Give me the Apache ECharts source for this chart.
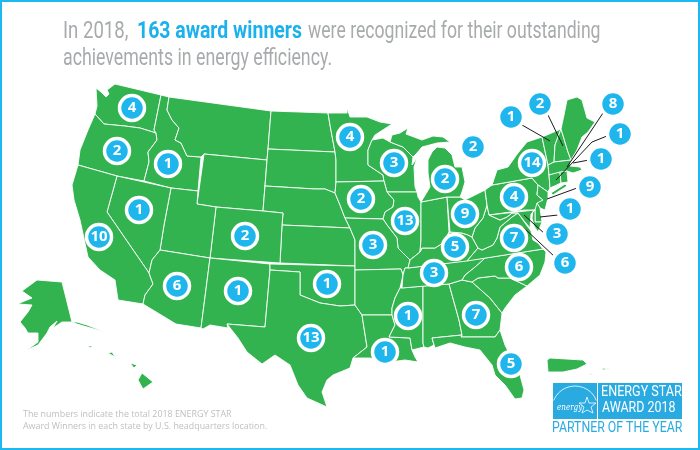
<!DOCTYPE html>
<html>
<head>
<meta charset="utf-8">
<title>ENERGY STAR 2018 award winners</title>
<script src="https://cdn.jsdelivr.net/npm/echarts@6/dist/echarts.min.js"></script>
<style>
html,body{margin:0;padding:0;background:#fff;}
#main{width:700px;height:450px;}
</style>
</head>
<body>
<div id="main"></div>
<script>
// bubbles: value and where it sits on the map (map units, y grows downward like the picture)
var bubbleNames = ["WA","OR","ID","NV","CA","AZ","NM","CO","TX","OK","MN","WI","IA","IL","MO","MI","MI2","OH","PA","NY","KY","TN","VA","NC","GA","MS","LA","FL","VT","NH","MA","NH2","RI","NJ","DE","MD","DC"];
var bubbleValues = [4,2,1,1,10,6,1,2,13,1,4,3,2,13,3,2,2,9,4,14,5,3,7,6,7,1,1,5,1,2,8,1,1,9,1,3,6];
var bubbleX = [132,117,168,139,99,177,238,245,311,327,350,394,361,405,373,445,473,465,514,532,455,434,514,519,476,408,385,511,511,540,613,620,601,590,570,557,565];
var bubbleY = [108,151,164,210,237,286,291,236,338,284,137,163,199,221,245,179,147,214,197,163,247,273,238,267,315,316,352,364,117,104,104,134,159,187,209,234,263];

// leader lines from the bubbles off the coast to their small state
var leaderLines = [
  [[522,125],[550,141]],
  [[548,115],[563,146]],
  [[603,113],[567,167]],
  [[607,136],[592,142],[556,180]],
  [[589,160],[573,163]],
  [[577,188],[547,199]],
  [[558,215],[540,217]],
  [[545,234],[524,215]],
  [[555,257],[523,227]]
];

// state outlines
var WA = [[96,88],[101,92],[106,97],[109,94],[107,90],[115,84],[161,95],[154,130],[156,133],[140,128],[125,126],[104,124],[95,114],[97,106]];
var OR = [[95,114],[104,124],[125,126],[140,128],[156,133],[157,140],[148,152],[149,162],[144,181],[117,176],[78,165],[80,150],[88,130]];
var ID = [[161,95],[169,97],[167,110],[172,120],[179,128],[175,140],[181,143],[187,156],[201,157],[198,191],[171,188],[144,181],[149,162],[148,152],[157,140],[156,133],[154,130]];
var MT = [[169,97],[271,111],[268,149],[267,160],[204,154],[201,157],[187,156],[181,143],[175,140],[179,128],[172,120],[167,110]];
var WY = [[204,154],[267,160],[263,211],[216,207],[197,204]];
var ND = [[271,111],[328,113],[330,125],[335,152],[268,149]];
var SD = [[268,149],[335,152],[336,160],[336,182],[335,193],[325,189],[315,189],[265,186],[267,160]];
var NE = [[265,186],[315,189],[325,189],[335,193],[340,205],[345,218],[350,228],[282,225],[283,213],[263,211]];
var KS = [[282,225],[350,228],[355,240],[355,266],[280,263]];
var CO = [[216,207],[263,211],[283,213],[282,225],[280,263],[210,258]];
var UT = [[171,188],[198,191],[197,204],[216,207],[210,258],[160,250],[164,225]];
var NV = [[117,176],[171,188],[164,225],[160,250],[152,260],[149,273],[107,212]];
var CA = [[78,165],[117,176],[107,212],[149,273],[153,284],[145,295],[143,304],[118,300],[115,280],[100,270],[88,257],[80,220],[74,200],[72,185]];
var AZ = [[160,250],[210,258],[201,328],[176,324],[143,304],[145,295],[153,284],[149,273],[152,260]];
var NM = [[210,258],[270,264],[270,270],[265,327],[227,324],[228,328],[210,325],[203,329],[201,328]];
var OK = [[270,264],[355,266],[355,305],[340,306],[320,303],[300,295],[300,272],[270,270]];
var TX = [[270,270],[300,272],[300,295],[320,303],[340,306],[355,305],[362,315],[367,347],[353,358],[350,368],[333,375],[327,380],[322,392],[327,407],[307,398],[298,385],[290,365],[275,355],[262,364],[247,352],[238,338],[227,324],[265,327]];
var MN = [[328,113],[347,113],[347,108],[350,117],[367,117],[380,122],[392,124],[375,135],[372,140],[368,150],[368,165],[383,175],[384,181],[336,182],[336,160],[335,152],[330,125]];
var WI = [[372,140],[383,138],[390,142],[403,147],[413,157],[412,165],[417,158],[414,167],[415,187],[417,192],[387,192],[384,181],[383,175],[368,165],[368,150]];
var IA = [[336,182],[384,181],[387,192],[394,200],[393,207],[385,212],[383,219],[345,218],[340,205],[335,193]];
var IL = [[387,192],[417,192],[418,197],[421,202],[421,240],[420,252],[410,260],[408,258],[398,248],[397,238],[387,225],[383,219],[385,212],[393,207],[394,200]];
var MO = [[345,218],[383,219],[387,225],[397,238],[398,248],[408,258],[410,260],[408,268],[405,268],[403,275],[401,269],[355,270],[355,240],[350,228]];
var AR = [[355,270],[401,269],[403,275],[400,288],[395,298],[392,308],[392,315],[362,315],[355,305]];
var LA = [[362,315],[392,315],[395,325],[389,337],[410,338],[412,350],[415,357],[418,362],[405,360],[390,362],[370,358],[353,358],[367,347]];
var MS = [[400,288],[423,286],[423,343],[424,347],[412,350],[410,338],[389,337],[395,325],[392,315],[392,308],[395,298]];
var AL = [[423,286],[449,284],[459,320],[462,335],[432,338],[434,345],[428,348],[424,347],[423,343]];
var GA = [[449,284],[462,280],[472,282],[490,298],[502,313],[500,330],[495,337],[461,337],[462,335],[459,320]];
var FL = [[432,338],[462,335],[461,337],[495,337],[500,330],[505,345],[520,375],[524,390],[522,398],[515,399],[505,385],[495,375],[492,365],[480,350],[465,347],[450,343],[435,348]];
var SC = [[472,282],[478,278],[495,276],[498,278],[510,278],[527,286],[515,295],[505,308],[502,313],[490,298]];
var NC = [[485,258],[543,249],[546,252],[545,262],[540,275],[527,286],[510,278],[498,278],[495,276],[478,278],[472,282],[462,280],[465,275],[475,267]];
var TN = [[408,268],[485,258],[475,267],[465,275],[462,280],[449,284],[402,288],[403,275],[405,268]];
var KY = [[408,268],[410,260],[420,252],[422,248],[435,248],[443,243],[450,232],[462,233],[468,235],[472,237],[478,248],[467,261]];
var VA = [[467,261],[478,248],[482,250],[493,245],[497,238],[500,227],[512,217],[518,213],[525,223],[531,231],[533,240],[538,243],[543,249]];
var WV = [[487,205],[489,215],[500,220],[507,217],[512,213],[518,213],[512,217],[500,227],[497,238],[493,245],[482,250],[478,248],[472,237],[475,228],[483,218]];
var IN = [[421,202],[447,197],[449,232],[443,243],[435,248],[422,248],[420,252],[421,240]];
var OH = [[447,197],[460,197],[465,200],[485,190],[487,205],[483,218],[475,228],[472,237],[468,235],[462,233],[450,232]];
var MI1 = [[390,142],[392,135],[400,133],[408,128],[406,134],[422,140],[433,136],[443,137],[450,142],[437,143],[422,147],[417,153],[413,157],[403,147]];
var MI2 = [[437,147],[445,148],[452,155],[455,167],[462,167],[465,182],[462,192],[460,197],[447,197],[421,202],[430,187],[428,173],[428,160],[432,152]];
var PA = [[485,190],[492,185],[532,178],[538,185],[537,195],[543,200],[535,210],[525,210],[489,215],[487,205]];
var NY = [[492,185],[497,170],[508,167],[518,153],[527,142],[542,137],[548,165],[549,175],[550,188],[548,192],[538,185],[532,178]];
var LI = [[551,193],[565,184],[567,186],[553,195]];
var NJ = [[538,185],[548,192],[548,198],[545,210],[540,208],[537,203],[543,200],[537,195]];
var DE = [[535,210],[537,203],[540,208],[542,222],[535,222]];
var MD = [[489,215],[535,210],[531,214],[530,228],[525,222],[518,213],[512,213],[507,217],[500,220]];
var MD2 = [[533,211],[535,210],[535,222],[542,222],[538,232],[534,226],[532,218]];
var VT = [[542,137],[561,129],[555,145],[554,162],[548,165]];
var NH = [[561,129],[568,152],[571,160],[554,162],[555,145]];
var ME = [[561,129],[564,115],[567,100],[577,97],[582,100],[587,118],[595,122],[588,132],[582,137],[577,150],[571,160],[568,152]];
var MA = [[548,165],[554,162],[571,160],[570,166],[580,167],[582,170],[573,173],[567,171],[549,175]];
var CT = [[549,175],[560,172],[561,183],[550,188]];
var RI = [[560,172],[567,171],[568,182],[561,183]];
var AK = [[62,282],[37,280],[22,291],[32,298],[22,302],[18,304],[32,305],[28,312],[20,322],[25,328],[28,333],[38,333],[38,342],[27,350],[38,345],[47,333],[50,327],[57,321],[53,328],[62,322],[72,322]];
var AK2 = [[72,322],[77,322],[87,325],[105,332],[104,333],[87,327],[77,324]];
var HI = [[138,380],[142,373],[153,382],[143,389]];
var HI2 = [[130,363],[137,365],[134,368]];
var HI3 = [[108,353],[112,352],[115,357]];
var HI4 = [[88,346],[93,346],[90,348]];
var PR = [[547,360],[550,358],[583,360],[587,364],[577,369],[563,372],[548,372]];
var PR2 = [[589,374],[595,373],[590,375]];
var PR3 = [[602,368],[610,369],[603,370]];

var stateShapes = {
  WA:[WA],OR:[OR],ID:[ID],MT:[MT],WY:[WY],ND:[ND],SD:[SD],NE:[NE],KS:[KS],CO:[CO],UT:[UT],NV:[NV],CA:[CA],AZ:[AZ],NM:[NM],
  OK:[OK],TX:[TX],MN:[MN],WI:[WI],IA:[IA],IL:[IL],MO:[MO],AR:[AR],LA:[LA],MS:[MS],AL:[AL],GA:[GA],FL:[FL],SC:[SC],NC:[NC],
  TN:[TN],KY:[KY],VA:[VA],WV:[WV],IN:[IN],OH:[OH],MI:[MI1,MI2],PA:[PA],NY:[NY,LI],NJ:[NJ],DE:[DE],MD:[MD,MD2],VT:[VT],NH:[NH],
  ME:[ME],MA:[MA],CT:[CT],RI:[RI],AK:[AK,AK2],HI:[HI,HI2,HI3,HI4],PR:[PR,PR2,PR3]
};

// geo has y going up, the tracing has it going down
function flip(p){
  return [p[0],450-p[1]];
}

var features = [];
for(var name in stateShapes){
  var polys = [];
  for(var i=0;i<stateShapes[name].length;i++){
    polys.push([stateShapes[name][i].map(flip)]);
  }
  features.push({
    type:"Feature",
    properties:{name:name},
    geometry:{type:"MultiPolygon",coordinates:polys}
  });
}
echarts.registerMap("us",{type:"FeatureCollection",features:features});

var bubbleData = [];
for(var i=0;i<bubbleValues.length;i++){
  bubbleData.push({name:bubbleNames[i],value:[bubbleX[i],450-bubbleY[i],bubbleValues[i]]});
}
var lineData = leaderLines.map(function(l){
  return {coords:l.map(flip)};
});

var blue = "#1FB6EE";
var chart = echarts.init(document.getElementById("main"),null,{renderer:"canvas"});
var option = {
  animation:false,
  backgroundColor:"#fff",
  geo:{
    map:"us",
    roam:false,
    silent:true,
    aspectScale:1,
    boundingCoords:[[0,450],[700,0]],
    layoutCenter:["50%","50%"],
    layoutSize:700,
    label:{show:false},
    itemStyle:{areaColor:"#33B34F",borderColor:"#fff",borderWidth:0.9}
  },
  series:[{
    type:"lines",
    coordinateSystem:"geo",
    polyline:true,
    silent:true,
    z:3,
    lineStyle:{color:"#1a1a1a",width:1,opacity:1},
    data:lineData
  },{
    type:"scatter",
    coordinateSystem:"geo",
    silent:true,
    z:4,
    symbolSize:25,
    itemStyle:{color:blue,borderColor:"#fff",borderWidth:3.5,opacity:1},
    label:{
      show:true,
      position:"inside",
      formatter:function(p){return p.value[2];},
      color:"#fff",
      fontFamily:"Open Sans",
      fontWeight:"bold",
      fontSize:15
    },
    data:bubbleData
  }],
  graphic:[
    {type:"rect",silent:true,z:10,shape:{x:1,y:1,width:698,height:448},style:{fill:"none",stroke:"#1CB8F0",lineWidth:2}},
    // headline pieces, squeezed because the condensed face of the original is not installed
    {type:"text",z:10,x:63,y:20,scaleX:0.775,style:{text:"In 2018,",font:"24px Roboto",fill:"#A8ABAD"}},
    {type:"text",z:10,x:137,y:20,scaleX:0.81,style:{text:"163 award winners",font:"bold 24px Roboto",fill:"#1CB1EC"}},
    {type:"text",z:10,x:308,y:20,scaleX:0.735,style:{text:"were recognized for their outstanding",font:"24px Roboto",fill:"#A8ABAD"}},
    {type:"text",z:10,x:63,y:47,scaleX:0.74,style:{text:"achievements in energy efficiency.",font:"24px Roboto",fill:"#A8ABAD"}},
    {type:"text",z:10,x:23,y:410,style:{text:"The numbers indicate the total 2018 ENERGY STAR",font:"8.9px 'Open Sans'",fill:"#BDBFC1"}},
    {type:"text",z:10,x:23,y:422,style:{text:"Award Winners in each state by U.S. headquarters location.",font:"8.9px 'Open Sans'",fill:"#BDBFC1"}},
    // energy star logo box
    {type:"rect",z:10,shape:{x:553,y:383,width:44,height:36},style:{fill:"#29ABE2"}},
    {type:"rect",z:10,shape:{x:598,y:383,width:84,height:36},style:{fill:"#29ABE2"}},
    {type:"arc",z:11,shape:{cx:575,cy:409,r:23,startAngle:Math.PI*1.12,endAngle:Math.PI*1.88},style:{fill:"none",stroke:"#fff",lineWidth:0.8}},
    {type:"text",z:11,x:557,y:403,scaleX:0.8,style:{text:"energy",font:"italic 9px 'DejaVu Serif'",fill:"#fff"}},
    {type:"polygon",z:11,shape:{points:[[587,397],[589,403],[596,403],[591,407],[593,413],[587,410],[582,413],[584,407],[579,403],[585,403]]},style:{fill:"none",stroke:"#fff",lineWidth:0.8}},
    {type:"text",z:11,x:601,y:385,scaleX:0.84,style:{text:"ENERGY STAR",font:"15px Roboto",fill:"#fff"}},
    {type:"text",z:11,x:602,y:401,scaleX:0.83,style:{text:"AWARD 2018",font:"15px Roboto",fill:"#fff"}},
    {type:"text",z:11,x:552,y:421,scaleX:0.82,style:{text:"PARTNER OF THE YEAR",font:"15px Roboto",fill:"#29ABE2"}}
  ]
};
chart.setOption(option);
</script>
</body>
</html>
